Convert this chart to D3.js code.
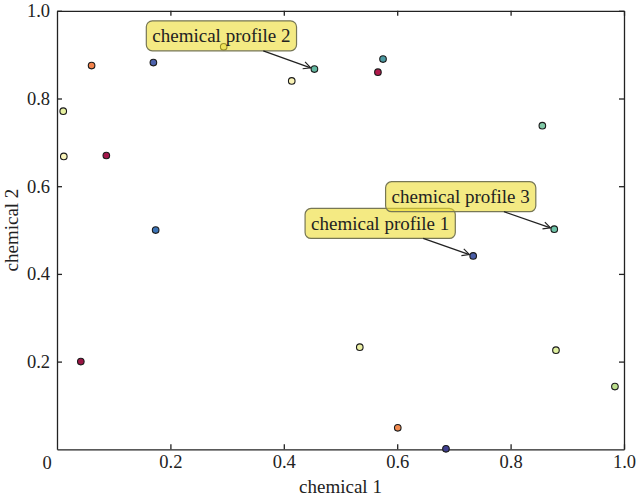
<!DOCTYPE html>
<html lang="en">
<head>
<meta charset="utf-8">
<script src="https://cdn.jsdelivr.net/npm/d3@7"></script>
<style>
  body { margin: 0; background: #fff; }
  svg text { font-family: "Liberation Serif", "DejaVu Serif", serif; fill: #222; }
  .axis path, .axis line { stroke: #222; stroke-width: 1.3; }
</style>
</head>
<body>
<div id="chart"></div>
<script>
// point data
const chem1 = [0.011, 0.012, 0.061, 0.087, 0.170, 0.174, 0.042, 0.294, 0.414, 0.454,
               0.575, 0.566, 0.534, 0.601, 0.686, 0.734, 0.856, 0.877, 0.880, 0.984]
const chem2 = [0.771, 0.668, 0.875, 0.670, 0.882, 0.500, 0.200, 0.918, 0.840, 0.867,
               0.890, 0.860, 0.233, 0.049, 0.001, 0.441, 0.738, 0.502, 0.226, 0.143]
const pointColors = ['#e8f2a2', '#fbf6bc', '#f3834c', '#a3164a', '#4d62ac', '#3d74b6', '#9b1544', '#f1ea92', '#faf3b6', '#62b8a0',
                     '#4b9aa2', '#b01a4b', '#ecf0a4', '#f28a4f', '#3f3f8e', '#4a5ea8', '#80c8a6', '#6cc2a6', '#dff0a0', '#bde08e']

// annotations
const annotLabels = ['chemical profile 1', 'chemical profile 2', 'chemical profile 3']
const annotPoint = [15, 9, 17]
const annotTextX = [0.570, 0.290, 0.712]
const annotTextY = [0.515, 0.943, 0.576]

const xTicks = [0.2, 0.4, 0.6, 0.8, 1.0]
const yTicks = [0.2, 0.4, 0.6, 0.8, 1.0]

const w = 636, h = 497
const padLeft = 57, padRight = 624, padTop = 10.8, padBottom = 449.3

const svg = d3.select('#chart').append('svg')
    .attr('width', w).attr('height', h)

const scaleX = d3.scaleLinear().domain([0, 1]).range([padLeft, padRight])
const scaleY = d3.scaleLinear().domain([0, 1]).range([padBottom, padTop])

svg.append('defs').append('marker')
    .attr('id', 'arrow')
    .attr('viewBox', '0 0 10 10')
    .attr('refX', 9).attr('refY', 5)
    .attr('markerWidth', 9).attr('markerHeight', 9)
    .attr('markerUnits', 'userSpaceOnUse')
    .attr('orient', 'auto')
  .append('path')
    .attr('d', 'M1,1 L9,5 L1,9')
    .attr('fill', 'none')
    .attr('stroke', '#222')
    .attr('stroke-width', 1.3)

// axes, ticks pointing inward on all four sides
const fmt = d3.format('.1f')
svg.append('g').attr('class', 'axis')
    .attr('transform', 'translate(0,' + padBottom + ')')
    .call(d3.axisBottom(scaleX).tickValues(xTicks).tickFormat(fmt).tickSizeInner(-5).tickSizeOuter(0).tickPadding(6))
svg.append('g').attr('class', 'axis')
    .attr('transform', 'translate(0,' + padTop + ')')
    .call(d3.axisTop(scaleX).tickValues(xTicks).tickFormat('').tickSizeInner(-5).tickSizeOuter(0))
svg.append('g').attr('class', 'axis')
    .attr('transform', 'translate(' + padLeft + ',0)')
    .call(d3.axisLeft(scaleY).tickValues(yTicks).tickFormat(fmt).tickSizeInner(-5).tickSizeOuter(0).tickPadding(7))
svg.append('g').attr('class', 'axis')
    .attr('transform', 'translate(' + padRight + ',0)')
    .call(d3.axisRight(scaleY).tickValues(yTicks).tickFormat('').tickSizeInner(-5).tickSizeOuter(0))

svg.selectAll('.axis text')
    .style('font-size', '18.5px')
    .style('font-family', '"Liberation Serif", "DejaVu Serif", serif')
    .attr('fill', '#222')

// origin label
svg.append('text')
    .attr('x', scaleX(0) - 10).attr('y', scaleY(0) + 20)
    .attr('text-anchor', 'middle')
    .style('font-size', '18.5px')
    .text('0')

svg.append('text')
    .attr('x', (padLeft + padRight) / 2).attr('y', 493)
    .attr('text-anchor', 'middle')
    .style('font-size', '19px')
    .text('chemical 1')

svg.append('text')
    .attr('transform', 'translate(18,' + ((padTop + padBottom) / 2) + ') rotate(-90)')
    .attr('text-anchor', 'middle')
    .style('font-size', '19px')
    .text('chemical 2')

// points
svg.selectAll('circle.pt')
    .data(chem1)
    .enter()
    .append('circle')
    .attr('class', 'pt')
    .attr('cx', function(d) { return scaleX(d) })
    .attr('cy', function(d, i) { return scaleY(chem2[i]) })
    .attr('r', 3.3)
    .attr('fill', function(d, i) { return pointColors[i] })
    .attr('stroke', '#1a1a1a')
    .attr('stroke-width', 1.1)

// annotation boxes with arrows
annotLabels.forEach(function(label, i) {
    const g = svg.append('g')
    const t = g.append('text')
        .attr('x', scaleX(annotTextX[i]))
        .attr('y', scaleY(annotTextY[i]))
        .attr('dy', '0.33em')
        .attr('text-anchor', 'middle')
        .style('font-size', '19px')
        .text(label)
    const bb = t.node().getBBox()
    const padX = 6, halfH = 15
    const cx = scaleX(annotTextX[i]), cy = scaleY(annotTextY[i])
    const bx0 = cx - bb.width / 2 - padX, bx1 = cx + bb.width / 2 + padX
    const by0 = cy - halfH, by1 = cy + halfH
    g.insert('rect', 'text')
        .attr('x', bx0).attr('y', by0)
        .attr('width', bx1 - bx0).attr('height', by1 - by0)
        .attr('rx', 6).attr('ry', 6)
        .attr('fill', '#ecdc30').attr('fill-opacity', 0.6)
        .attr('stroke', '#777755').attr('stroke-width', 1.2)

    // arrow from box edge to the point
    const px = scaleX(chem1[annotPoint[i]]), py = scaleY(chem2[annotPoint[i]])
    const dx = px - cx, dy = py - cy
    let tEdge = Infinity
    if (dx !== 0) tEdge = Math.min(tEdge, Math.abs((dx > 0 ? bx1 - cx : cx - bx0) / dx))
    if (dy !== 0) tEdge = Math.min(tEdge, Math.abs((dy > 0 ? by1 - cy : cy - by0) / dy))
    const len = Math.sqrt(dx * dx + dy * dy)
    const shrink = 4 / len
    g.append('line')
        .attr('x1', cx + dx * tEdge).attr('y1', cy + dy * tEdge)
        .attr('x2', px - dx * shrink).attr('y2', py - dy * shrink)
        .attr('stroke', '#222').attr('stroke-width', 1.3)
        .attr('marker-end', 'url(#arrow)')
})
</script>
</body>
</html>
